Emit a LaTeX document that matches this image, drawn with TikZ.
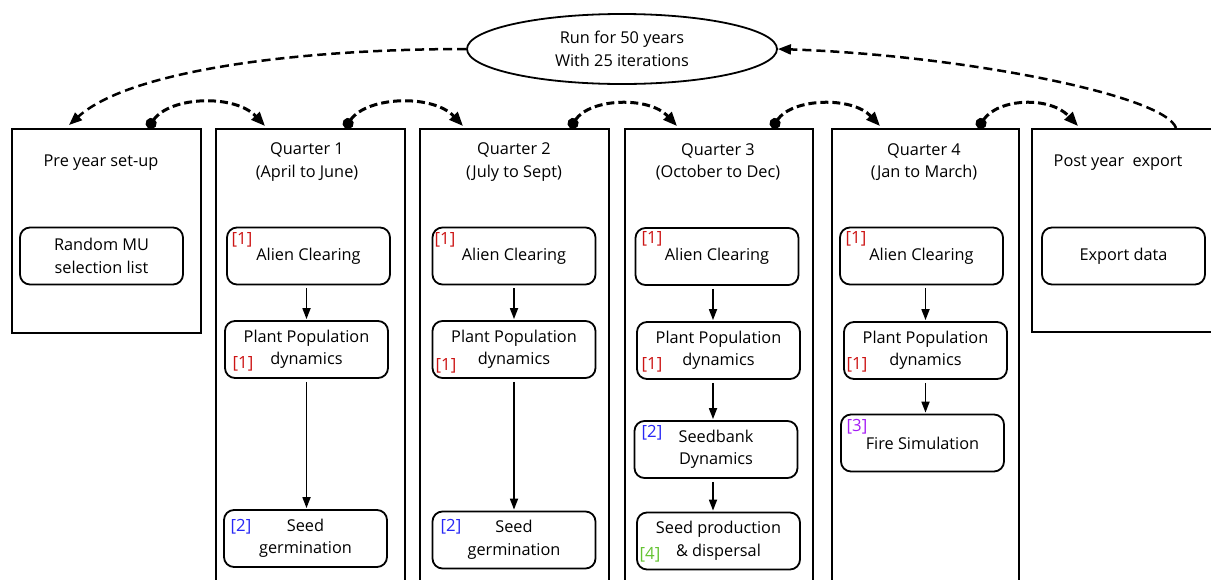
\documentclass[tikz,border=0pt]{standalone}
\usepackage{fontspec}
\setmainfont{Open Sans}
\usetikzlibrary{arrows.meta,shapes.geometric}
\definecolor{lred}{RGB}{204,20,20}
\definecolor{lblue}{RGB}{40,40,245}
\definecolor{lpurple}{RGB}{165,30,245}
\definecolor{lgreen}{RGB}{100,195,50}
\newcommand\mainfs{\fontsize{16.3}{22.5}\selectfont}
\newcommand\lblfs{\fontsize{16.8}{19}\selectfont}
\begin{document}
\begin{tikzpicture}[x=1pt,y=-1pt,
  frame/.style={draw, line width=1.9pt, inner sep=0pt, anchor=north west},
  inbox/.style={draw, line width=1.8pt, rounded corners=10pt, minimum width=163pt, minimum height=57pt, inner sep=0pt, align=center, font=\mainfs},
  ttl/.style={font=\mainfs, align=center, inner sep=0pt},
  lbl/.style={font=\lblfs, inner sep=0pt, text=#1},
  flow/.style={line width=1.7pt, -{Triangle[length=11pt,width=8pt]}, shorten <=3pt, shorten >=1pt},
  qloop/.style={line width=3pt, dash pattern=on 8pt off 4pt, {Circle[length=11pt]}-{Triangle[length=14pt,width=11pt]}},
  bigloop/.style={line width=2.5pt, dash pattern=on 9pt off 5pt, -{Triangle[length=13pt,width=10pt]}}
]
\useasboundingbox (0,0) rectangle (1211,579);
\clip (0,0) rectangle (1211,579);

% outer frames
\node[frame, minimum width=189pt, minimum height=204pt] (pre) at (11,128) {};
\node[frame, minimum width=189pt, minimum height=480pt] (q1) at (215,128) {};
\node[frame, minimum width=189pt, minimum height=480pt] (q2) at (419,128) {};
\node[frame, minimum width=188pt, minimum height=480pt] (q3) at (624,128) {};
\node[frame, minimum width=187pt, minimum height=480pt] (q4) at (831,128) {};
\node[frame, minimum width=200pt, minimum height=203pt] (post) at (1031,128) {};

% titles
\node[ttl] (tpre) at (101,163) {Pre year set-up};
\node[ttl] (t1) at (307,162) {Quarter 1\\(April to June)};
\node[ttl] (t2) at (514,162) {Quarter 2\\(July to Sept)};
\node[ttl] (t3) at (718,162) {Quarter 3\\(October to Dec)};
\node[ttl] (t4) at (924,162) {Quarter 4\\(Jan to March)};
\node[ttl] (tpost) at (1118,163) {Post year\ \ export};

% ellipse
\node[draw, ellipse, line width=1.8pt, minimum width=310pt, minimum height=70pt, inner sep=0pt, align=center, font=\mainfs] (run) at (622,49) {Run for 50 years\\With 25 iterations};

% inner boxes
\node[inbox] (rmu) at (101.5,256) {Random MU\\selection list};
\node[inbox] (a1) at (308.5,256) {Alien Clearing};
\node[inbox] (p1) at (306.5,349.5) {Plant Population\\dynamics};
\node[inbox] (s1) at (305.5,538.5) {Seed\\germination};
\node[inbox] (a2) at (514,256) {Alien Clearing};
\node[inbox] (p2) at (514,349.5) {Plant Population\\dynamics};
\node[inbox] (s2) at (514,540) {Seed\\germination};
\node[inbox] (a3) at (717,256.5) {Alien Clearing};
\node[inbox] (p3) at (718.5,350.5) {Plant Population\\dynamics};
\node[inbox] (sb3) at (716,449.5) {Seedbank\\Dynamics};
\node[inbox] (sp3) at (718.5,541) {Seed production\\\& dispersal};
\node[inbox] (a4) at (921.5,256) {Alien Clearing};
\node[inbox] (p4) at (925.5,350.5) {Plant Population\\dynamics};
\node[inbox] (f4) at (922.5,443) {Fire Simulation};
\node[inbox] (ex) at (1123.5,256) {Export data};

% labels
\node[lbl=lred] (l1) at (242,240) {[1]};
\node[lbl=lred] (l2) at (243,364) {[1]};
\node[lbl=lblue] (l3) at (241,527) {[2]};
\node[lbl=lred] (l4) at (445,240) {[1]};
\node[lbl=lred] (l5) at (446,366) {[1]};
\node[lbl=lblue] (l6) at (451,527) {[2]};
\node[lbl=lred] (l7) at (652,239) {[1]};
\node[lbl=lred] (l8) at (652,365) {[1]};
\node[lbl=lblue] (l9) at (652,433) {[2]};
\node[lbl=lgreen] (l10) at (650,555) {[4]};
\node[lbl=lred] (l11) at (856,239) {[1]};
\node[lbl=lred] (l12) at (857,365) {[1]};
\node[lbl=lpurple] (l13) at (857,427) {[3]};

% flow arrows
\draw[flow] (p1.north |- a1.south) -- (p1.north);
\draw[flow] (p1.south) -- (p1.south |- s1.north);
\draw[flow] (a2.south) -- (a2.south |- p2.north);
\draw[flow] (p2.south) -- (p2.south |- s2.north);
\draw[flow] ([xshift=-4pt]a3.south) -- ([xshift=-4pt]a3.south |- p3.north);
\draw[flow] ([xshift=-4pt]a3.south |- p3.south) -- ([xshift=-4pt]a3.south |- sb3.north);
\draw[flow] ([xshift=-4pt]a3.south |- sb3.south) -- ([xshift=-4pt]a3.south |- sp3.north);
\draw[flow] (p4.north |- a4.south) -- (p4.north);
\draw[flow] (p4.south) -- (p4.south |- f4.north);

% quarter-to-quarter loops
\draw[qloop] ([xshift=137pt]pre.north west) .. controls +(22,-32) and +(-30,-32) .. ([xshift=50pt,yshift=2pt]q1.north west);
\draw[qloop] ([xshift=130pt]q1.north west) .. controls +(22,-32) and +(-30,-32) .. ([xshift=44pt,yshift=2pt]q2.north west);
\draw[qloop] ([xshift=151pt]q2.north west) .. controls +(20,-30) and +(-28,-30) .. ([xshift=53pt,yshift=2pt]q3.north west);
\draw[qloop] ([xshift=148pt]q3.north west) .. controls +(20,-30) and +(-28,-30) .. ([xshift=49pt,yshift=2pt]q4.north west);
\draw[qloop] ([xshift=147pt]q4.north west) .. controls +(20,-30) and +(-28,-30) .. ([xshift=47pt,yshift=2pt]post.north west);

% year loops
\coordinate (pretip) at ([xshift=58pt,yshift=3pt]pre.north west);
\coordinate (poststart) at ([xshift=145pt]post.north west);
\draw[bigloop] (run.west) .. controls (300,49) and (130,70) .. (pretip);
\draw[bigloop] (poststart) .. controls (1165,95) and (960,55) .. (run.east);
\end{tikzpicture}
\end{document}
